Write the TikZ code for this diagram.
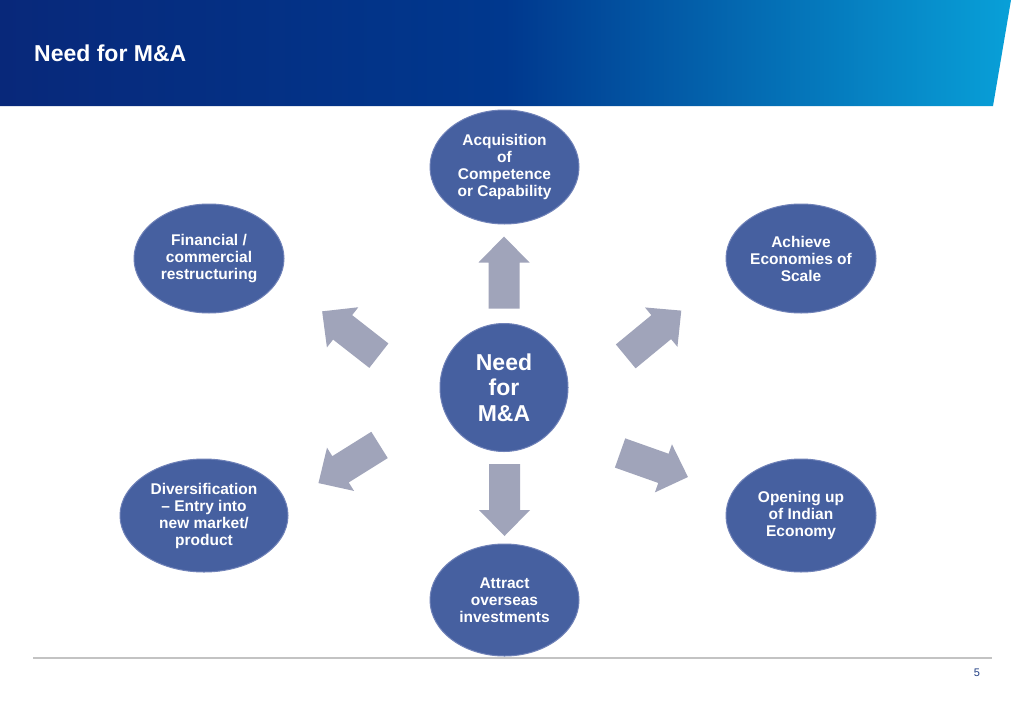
\documentclass[tikz,border=0pt]{standalone}
\usepackage{fontspec}
\setmainfont{Liberation Sans}
\usetikzlibrary{shapes.geometric}
\definecolor{nodeblue}{RGB}{70,96,160}
\definecolor{rimblue}{RGB}{112,130,184}
\definecolor{arrowgray}{RGB}{160,164,186}
\definecolor{hdleft}{RGB}{8,40,122}
\definecolor{hdmid}{RGB}{0,56,142}
\definecolor{hdright}{RGB}{8,160,216}
\definecolor{footgray}{RGB}{195,195,195}
\definecolor{pagenum}{RGB}{30,60,130}
\tikzset{
  bubble/.style={ellipse, fill=nodeblue, draw=rimblue, line width=1pt, inner sep=0pt,
    text=white, align=center, font=\fontsize{15.5}{17}\selectfont\bfseries},
  hub/.style={circle, fill=nodeblue, draw=rimblue, line width=1pt, inner sep=0pt,
    minimum size=128pt, text=white, align=center, font=\fontsize{23}{25.5}\selectfont\bfseries},
  arrowfill/.style={fill=arrowgray},
}
\newcommand\blockarrow[3]{%
  \begin{scope}[shift={(#1,#2)}, rotate=#3]
    \fill[arrowfill] (-36,-15.5) -- (10,-15.5) -- (10,-25.5) -- (36,0) -- (10,25.5) -- (10,15.5) -- (-36,15.5) -- cycle;
  \end{scope}}
\begin{document}
\begin{tikzpicture}[x=1pt,y=-1pt]
\useasboundingbox (0,0) rectangle (1024,709);
\fill[white] (0,0) rectangle (1024,709);
% header
\shade[left color=hdleft, right color=hdright, middle color=hdmid]
  (0,0) -- (1011,0) -- (993,106) -- (0,106) -- cycle;
\node[anchor=base west, inner sep=0pt, text=white, font=\fontsize{23}{25}\selectfont\bfseries] (title) at (34,61.5) {Need for M\&A};
% hub
\node[hub] (hub) at (504,387.5) {Need\\for\\M\&A};
% satellites
\node[bubble, minimum width=149pt, minimum height=114pt] (acq) at (504.5,167) {Acquisition\\of\\Competence\\or Capability};
\node[bubble, minimum width=150pt, minimum height=109pt] (fin) at (209,258.5) {Financial /\\commercial\\restructuring};
\node[bubble, minimum width=150pt, minimum height=109pt] (ach) at (801,258.5) {Achieve\\Economies of\\Scale};
\node[bubble, minimum width=168pt, minimum height=113pt] (div) at (204,515.5) {Diversification\\– Entry into\\new market/\\product};
\node[bubble, minimum width=150pt, minimum height=113pt] (open) at (801,515.5) {Opening up\\of Indian\\Economy};
\node[bubble, minimum width=149pt, minimum height=112pt] (att) at (504.5,600) {Attract\\overseas\\investments};
% block arrows
\blockarrow{504}{272.5}{90}
\blockarrow{504.5}{500}{-90}
\blockarrow{653.5}{333.5}{39.5}
\blockarrow{350.5}{333.5}{142}
\blockarrow{349}{464}{212}
\blockarrow{654}{465}{-19.5}
% footer
\draw[footgray, line width=1.2pt] (33,658) -- (992,658);
\node[text=pagenum, font=\fontsize{11}{12}\selectfont, inner sep=0pt] (page) at (977,672.5) {5};
\end{tikzpicture}
\end{document}
